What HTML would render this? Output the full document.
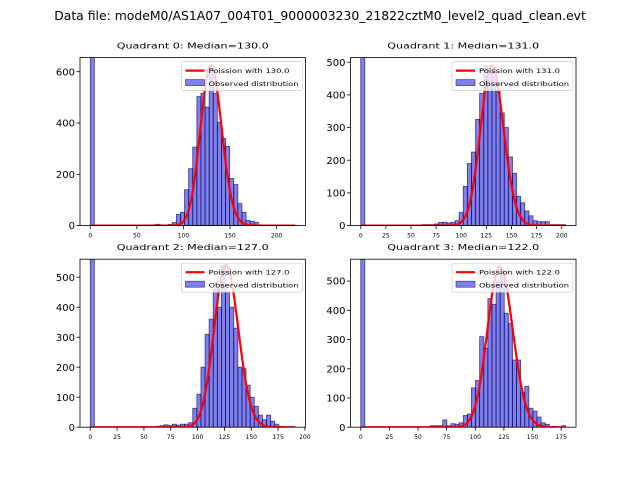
<!DOCTYPE html>
<html><head><meta charset="utf-8"><style>
body{margin:0;background:#fff}
svg{display:block;font-family:"DejaVu Sans","Liberation Sans",sans-serif}
</style></head><body>
<svg id="fig" width="640" height="480" viewBox="0 0 640 480">
<rect width="640" height="480" fill="#fff"/>
<text x="320" y="20" text-anchor="middle" font-size="12.4">Data file: modeM0/AS1A07_004T01_9000003230_21822cztM0_level2_quad_clean.evt</text>
</svg>
<script>
const quadNames=["Quadrant 0","Quadrant 1","Quadrant 2","Quadrant 3"];
const medians=[130.0,131.0,127.0,122.0];
const dataMax=[220,204,191,179];
const yMax=[655,514,560,575];
const yTicks0=[0,200,400,600];
const yTicks1=[0,100,200,300,400,500];
const yTicks2=[0,100,200,300,400,500];
const yTicks3=[0,100,200,300,400,500];
const xTicks0=[0,50,100,150,200];
const xTicks1=[0,25,50,75,100,125,150,175,200];
const xTicks2=[0,25,50,75,100,125,150,175,200];
const xTicks3=[0,25,50,75,100,125,150,175];
const curvePeak=[625,490,540,550];
const counts0=[1000,0,0,0,0,0,0,0,0,0,0,0,0,0,0,3,5,3,2,5,12,44,52,140,222,306,503,516,462,625,516,403,340,309,184,160,86,52,20,17,13,3,2,1,1,1,0,0,0,1];
const counts1=[1000,0,0,0,0,0,0,0,0,0,0,0,0,0,0,3,3,3,5,10,10,8,10,15,40,120,190,225,325,405,490,480,470,415,345,300,210,160,90,70,45,30,15,12,12,12,3,3,3,3];
const counts2=[1000,0,0,0,0,0,0,0,0,0,0,0,0,0,0,2,3,5,8,5,10,7,10,10,15,63,110,200,310,360,460,400,540,450,400,330,200,195,140,100,70,40,25,40,20,10,3,2,1,1];
const counts3=[1000,0,0,0,0,0,0,0,0,0,0,0,0,0,0,0,0,5,5,5,25,5,12,10,15,40,45,135,160,310,270,440,420,500,540,390,355,230,230,120,140,65,55,35,15,10,3,2,0,5];
const allCounts=[counts0,counts1,counts2,counts3];
const allXTicks=[xTicks0,xTicks1,xTicks2,xTicks3];
const allYTicks=[yTicks0,yTicks1,yTicks2,yTicks3];

const NS="http://www.w3.org/2000/svg";
const svg=document.getElementById('fig');
function mk(tag,attrs,parent){const e=document.createElementNS(NS,tag);for(const k in attrs)e.setAttribute(k,attrs[k]);(parent||svg).appendChild(e);return e;}
function lgamma(x){
  if(x<7){let p=1;while(x<7){p*=x;x+=1;}return lg(x)-Math.log(p);}return lg(x);
  function lg(z){return (z-0.5)*Math.log(z)-z+0.5*Math.log(2*Math.PI)+1/(12*z)-1/(360*z*z*z);}
}
const boxes=[[80,57.6],[350.5,57.6],[80,259.2],[350.5,259.2]];
const W=225.5,H=168;
for(let q=0;q<4;q++){
  const [L,T]=boxes[q];
  const g=mk('g',{});
  
  
  const R=dataMax[q],x0=-0.05*R,x1=1.05*R;
  const X=v=>L+(v-x0)/(x1-x0)*W;
  const Y=v=>T+H-v/yMax[q]*H;
  const clip=mk('clipPath',{id:'c'+q},g);mk('rect',{x:L,y:T,width:W,height:H},clip);
  const bars=mk('g',{'clip-path':'url(#c'+q+')'},g);
  const cnt=allCounts[q],n=cnt.length,bw=R/n;
  for(let i=0;i<n;i++){
    if(cnt[i]<=0)continue;
    const r=mk('rect',{x:X(i*bw),y:Y(cnt[i]),width:X((i+1)*bw)-X(i*bw),height:Y(0)-Y(cnt[i]),fill:'rgba(0,0,230,0.5)',stroke:'rgba(10,10,60,0.7)','stroke-width':0.8},bars);
    
    
  }
  const lam=medians[q];const lp=k=>k*Math.log(lam)-lam-lgamma(k+1);
  const peak=lp(Math.floor(lam));let d='';
  for(let k=0;k<=R;k++){const v=curvePeak[q]*Math.exp(lp(k)-peak);d+=(k?'L':'M')+X(k).toFixed(2)+','+Y(v).toFixed(2);}
  const c=mk('path',{d:d,fill:'none',stroke:'#ff0000','stroke-width':2.2},bars);
  
  
  mk('rect',{x:L,y:T,width:W,height:H,fill:'none',stroke:'#000','stroke-width':0.8},g);
  allXTicks[q].forEach(t=>{const x=X(t);mk('line',{x1:x,x2:x,y1:T+H,y2:T+H+3.5,stroke:'#000','stroke-width':0.8},g);
    const tx=mk('text',{x:x,y:T+H+12,'text-anchor':'middle','font-size':6},g);tx.textContent=t;
    });
  allYTicks[q].forEach(t=>{const y=Y(t);mk('line',{x1:L-3.5,x2:L,y1:y,y2:y,stroke:'#000','stroke-width':0.8},g);
    const tx=mk('text',{x:L-5,y:y+3.6,'text-anchor':'end','font-size':10},g);tx.textContent=t;
    });
  const ti=mk('text',{x:L+W/2,y:T-9,'text-anchor':'middle','font-size':8,textLength:152,lengthAdjust:'spacingAndGlyphs'},g);
  ti.textContent=quadNames[q]+': Median='+medians[q].toFixed(1);
  
  const lg=mk('g',{},g);
  
  const lx=L+W-124,ly=T+4;
  mk('rect',{x:lx,y:ly,width:121,height:29,rx:2,fill:'rgba(255,255,255,0.8)',stroke:'#ccc','stroke-width':0.7},lg);
  mk('line',{x1:lx+4,x2:lx+23,y1:ly+9,y2:ly+9,stroke:'#ff0000','stroke-width':2.2},lg);
  const t1=mk('text',{x:lx+27,y:ly+11.5,'font-size':6,textLength:81,lengthAdjust:'spacingAndGlyphs'},lg);t1.textContent='Poission with '+medians[q].toFixed(1);
  mk('rect',{x:lx+4,y:ly+18,width:19,height:6,fill:'rgba(0,0,230,0.5)',stroke:'rgba(10,10,60,0.7)','stroke-width':0.7},lg);
  const t2=mk('text',{x:lx+27,y:ly+24.5,'font-size':6,textLength:90,lengthAdjust:'spacingAndGlyphs'},lg);t2.textContent='Observed distribution';
}
</script>
</body></html>
